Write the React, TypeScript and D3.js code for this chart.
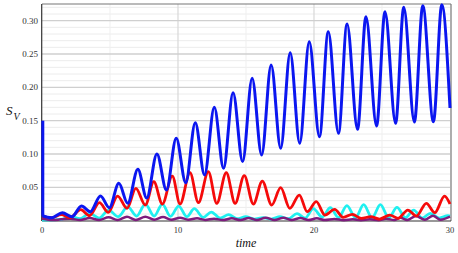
import * as d3 from 'd3';

// time axis 0..30, S_V values at peaks and troughs
const blueT = [0, 0.7, 1.5, 2.2, 2.9, 3.55, 4.3, 4.95, 5.65, 6.3, 7.05, 7.7, 8.45, 9.15, 9.87, 10.57, 11.27, 11.95, 12.67, 13.35, 14.05, 14.75, 15.45, 16.15, 16.85, 17.55, 18.25, 18.95, 19.65, 20.4, 21.05, 21.8, 22.43, 23.2, 23.82, 24.6, 25.22, 26.0, 26.6, 27.38, 28.0, 28.78, 29.4, 30];
const blueV = [0.0075, 0.0045, 0.012, 0.006, 0.022, 0.0135, 0.037, 0.0195, 0.056, 0.026, 0.077, 0.034, 0.1, 0.046, 0.1236, 0.057, 0.147, 0.0686, 0.17, 0.0786, 0.192, 0.0886, 0.2136, 0.0986, 0.2336, 0.1086, 0.252, 0.116, 0.2685, 0.126, 0.2835, 0.131, 0.295, 0.137, 0.306, 0.142, 0.3135, 0.146, 0.32, 0.148, 0.3225, 0.1485, 0.324, 0.169];
const blueSpike = [0.15, 0.0075];

const redT = [0, 0.7, 1.42, 2.05, 2.85, 3.5, 4.22, 4.87, 5.56, 6.25, 6.9, 7.6, 8.22, 8.85, 9.58, 10.15, 10.88, 11.5, 12.23, 12.85, 13.55, 14.2, 14.87, 15.54, 16.2, 16.89, 17.55, 18.22, 18.92, 19.5, 20.17, 20.8, 21.52, 22.15, 22.82, 23.47, 24.17, 24.82, 25.57, 26.18, 26.9, 27.53, 28.26, 28.88, 29.6, 30];
const redV = [0.006, 0.0045, 0.009, 0.0045, 0.0165, 0.0075, 0.027, 0.0125, 0.037, 0.0186, 0.0486, 0.0235, 0.0585, 0.025, 0.067, 0.025, 0.072, 0.027, 0.0735, 0.026, 0.072, 0.026, 0.0675, 0.025, 0.0595, 0.0235, 0.0495, 0.0186, 0.0385, 0.0135, 0.0285, 0.0085, 0.017, 0.005, 0.0096, 0.0036, 0.006, 0.0025, 0.0085, 0.0036, 0.016, 0.007, 0.026, 0.012, 0.037, 0.025];

const cyanT = [0, 1.4, 2.1, 2.8, 3.5, 4.2, 4.9, 5.6, 6.3, 6.95, 7.6, 8.25, 8.85, 9.45, 10.05, 10.65, 11.2, 11.85, 12.45, 13.1, 13.72, 14.35, 14.98, 15.6, 16.25, 16.85, 17.5, 18.1, 18.75, 19.35, 19.95, 20.6, 21.2, 21.8, 22.42, 23.05, 23.65, 24.27, 24.88, 25.5, 26.1, 26.72, 27.33, 27.95, 28.55, 29.2, 29.85, 30];
const cyanV = [0.001, 0.002, 0.006, 0.003, 0.011, 0.004, 0.016, 0.006, 0.021, 0.007, 0.025, 0.007, 0.025, 0.0065, 0.022, 0.006, 0.018, 0.005, 0.013, 0.004, 0.009, 0.003, 0.006, 0.0025, 0.0045, 0.0025, 0.006, 0.003, 0.0105, 0.004, 0.018, 0.0055, 0.0195, 0.0045, 0.0225, 0.0045, 0.024, 0.0045, 0.024, 0.0045, 0.02, 0.0045, 0.016, 0.004, 0.011, 0.004, 0.0075, 0.007];

const purpleT = [0, 0.8, 1.4, 2.1, 2.8, 3.5, 4.2, 4.9, 5.55, 6.25, 6.9, 7.6, 8.25, 8.9, 9.5, 10.15, 10.75, 11.4, 12.0, 12.65, 13.3, 13.95, 14.6, 15.2, 15.8, 16.45, 17.1, 17.75, 18.36, 19.0, 19.6, 20.2, 20.8, 21.5, 22.2, 22.85, 23.45, 24.1, 24.75, 25.3, 25.9, 26.35, 26.85, 27.5, 28.15, 28.75, 29.3, 30];
const purpleV = [0.003, 0.001, 0.002, 0.003, 0.001, 0.004, 0.001, 0.005, 0.001, 0.006, 0.0012, 0.006, 0.0015, 0.0055, 0.0015, 0.0045, 0.0015, 0.0035, 0.0012, 0.003, 0.001, 0.0035, 0.001, 0.004, 0.001, 0.0045, 0.001, 0.0045, 0.001, 0.004, 0.001, 0.0035, 0.001, 0.0025, 0.0008, 0.002, 0.0008, 0.0022, 0.0008, 0.003, 0.001, 0.0045, 0.001, 0.007, 0.0015, 0.0075, 0.0015, 0.006];

const yTicks = [0.05, 0.1, 0.15, 0.2, 0.25, 0.3];
const xTicks = [0, 10, 20, 30];

const W = 458;
const H = 253;

export default function App() {
  const x = d3.scaleLinear().domain([0, 30]).range([42, 450]);
  const y = d3.scaleLinear().domain([0, 0.325]).range([220.7, 4]);

  const line = d3
    .line<[number, number]>()
    .x((d) => x(d[0]))
    .y((d) => y(d[1]))
    .curve(d3.curveMonotoneX);

  const pts = (t: number[], v: number[]) => t.map((tt, i) => [tt, v[i]] as [number, number]);

  const minorY = d3.range(1, 33).map((i) => i / 100).filter((v) => Math.round(v * 100) % 5 !== 0);
  const minorX = [5, 15, 25];
  const majorX = [10, 20];

  const series = [
    { t: cyanT, v: cyanV, color: '#1ff0f0', w: 2.8 },
    { t: purpleT, v: purpleV, color: '#7d1c7d', w: 2.5 },
    { t: redT, v: redV, color: '#f50a0a', w: 2.8 },
    { t: blueT, v: blueV, color: '#0b16f0', w: 3 },
  ];

  const serif = '"Liberation Serif", "DejaVu Serif", serif';

  return (
    <svg width={W} height={H} style={{ position: 'absolute', left: 0, top: 0, background: '#fff' }}>
      {/* grid */}
      {minorY.map((v) => (
        <line key={'my' + v} x1={x(0)} x2={x(30)} y1={y(v)} y2={y(v)} stroke="#ececec" strokeWidth={1} />
      ))}
      {minorX.map((v) => (
        <line key={'mx' + v} x1={x(v)} x2={x(v)} y1={y(0)} y2={4} stroke="#efefef" strokeWidth={1} />
      ))}
      {majorX.map((v) => (
        <line key={'Mx' + v} x1={x(v)} x2={x(v)} y1={y(0)} y2={4} stroke="#d8d8d8" strokeWidth={1.2} />
      ))}
      {yTicks.map((v) => (
        <line key={'My' + v} x1={x(0)} x2={x(30)} y1={y(v)} y2={y(v)} stroke="#cfcfcf" strokeWidth={1.3} />
      ))}

      {/* frame */}
      <line x1={x(0)} x2={451} y1={4} y2={4} stroke="#777" strokeWidth={1.2} />
      <line x1={451} x2={451} y1={4} y2={221} stroke="#777" strokeWidth={1.2} />
      <line x1={x(0)} x2={451} y1={221} y2={221} stroke="#333" strokeWidth={1.2} />
      <line x1={41.7} x2={41.7} y1={4} y2={221} stroke="#333" strokeWidth={1.2} />

      {/* curves */}
      {series.map((s, i) => (
        <path key={i} d={line(pts(s.t, s.v)) || undefined} fill="none" stroke={s.color} strokeWidth={s.w} strokeLinejoin="round" />
      ))}
      <path
        d={d3.line<number>().x(() => x(0) + 0.8).y((d) => y(d))(blueSpike) || undefined}
        fill="none"
        stroke="#0b16f0"
        strokeWidth={3}
      />

      {/* tick labels */}
      {yTicks.map((v) => (
        <text key={'ty' + v} x={38} y={y(v) + 3} textAnchor="end" fontFamily={serif} fontSize={9} fill="#333">
          {v.toFixed(2)}
        </text>
      ))}
      {xTicks.map((v) => (
        <text key={'tx' + v} x={x(v)} y={233} textAnchor="middle" fontFamily={serif} fontSize={8.5} fill="#333">
          {v}
        </text>
      ))}

      {/* axis titles */}
      <text x={6} y={115} fontFamily={serif} fontStyle="italic" fontSize={13} fill="#111">
        S
      </text>
      <text x={13.5} y={120} fontFamily={serif} fontStyle="italic" fontSize={10} fill="#111">
        V
      </text>
      <text x={246} y={247} textAnchor="middle" fontFamily={serif} fontStyle="italic" fontSize={12} fill="#111">
        time
      </text>
    </svg>
  );
}
